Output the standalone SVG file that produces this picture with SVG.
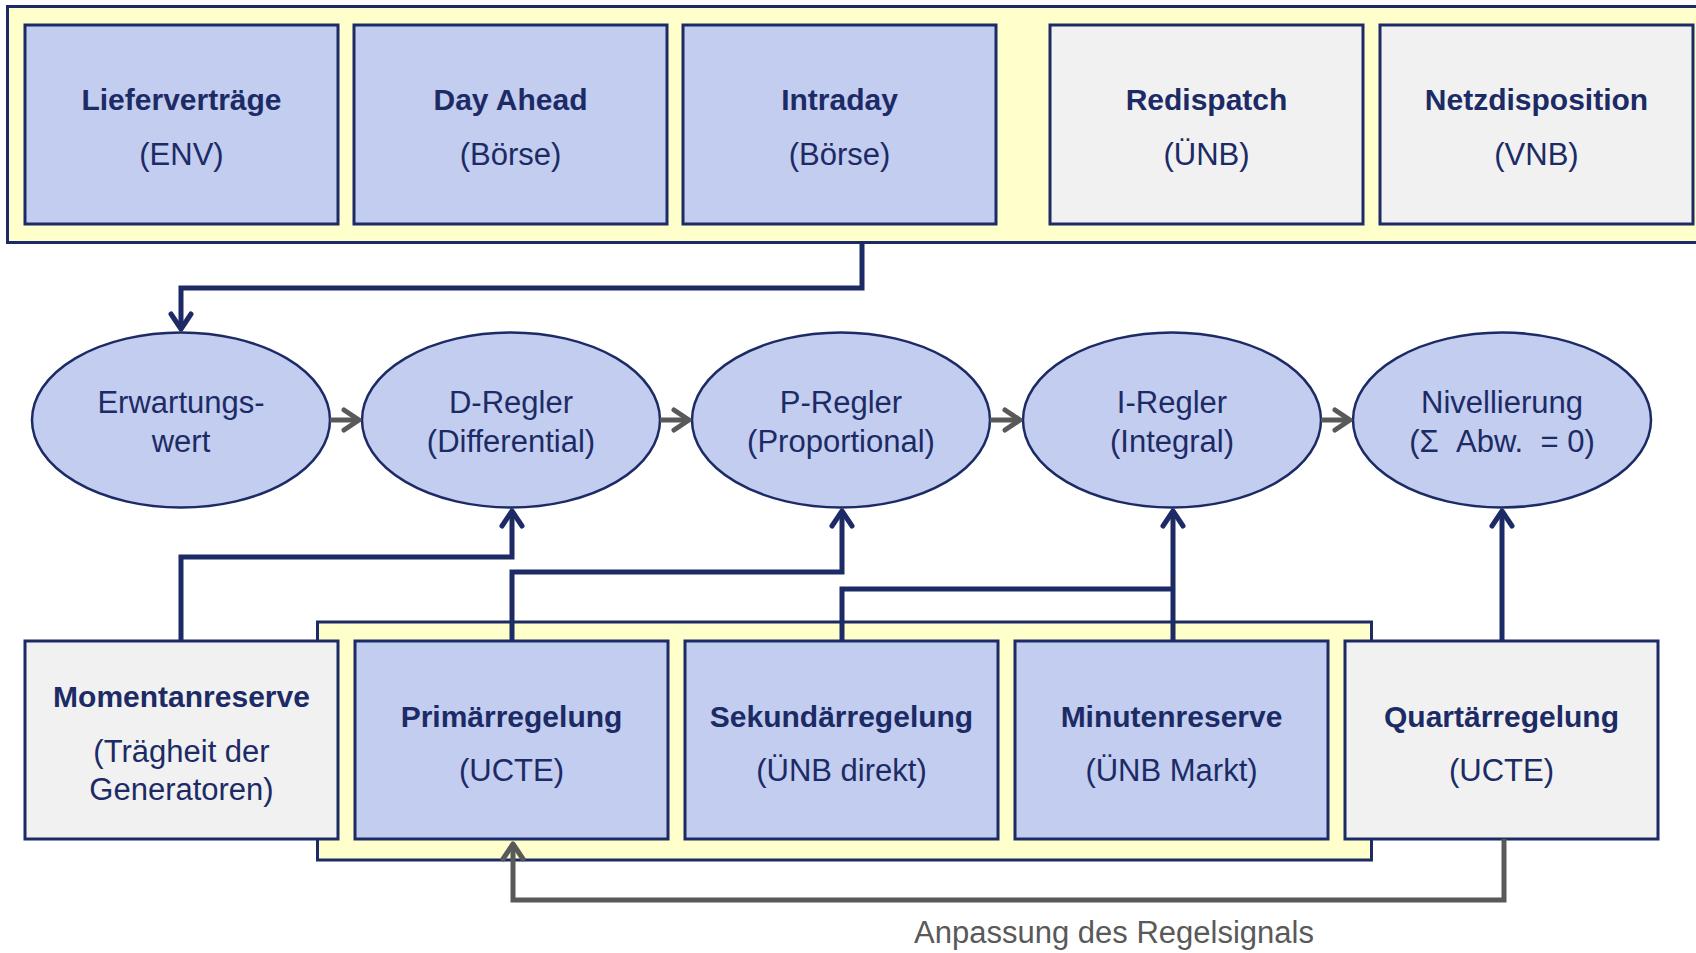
<svg xmlns="http://www.w3.org/2000/svg" width="1696" height="953" viewBox="0 0 1696 953">
  <style>
    .frame { fill: #ffffcc; stroke: #1c2b65; stroke-width: 3; }
    .blue { fill: #c3cdef; stroke: #1c2b65; stroke-width: 3; }
    .grey { fill: #f1f1f1; stroke: #1c2b65; stroke-width: 3; }
    .oval { fill: #c3cdef; stroke: #1c2b65; stroke-width: 2.5; }
    text { font-family: "Liberation Sans", Arial, sans-serif; fill: #1c2b65; text-anchor: middle; }
    .b { font-size: 30px; font-weight: bold; }
    .r { font-size: 31px; }
    .note { font-size: 31px; fill: #595959; }
    .link { fill: none; stroke: #1c2b65; stroke-width: 5; }
    .flow { fill: none; stroke: #595959; stroke-width: 5; }
  </style>
  <defs>
    <marker id="headNavy" markerUnits="userSpaceOnUse" orient="auto" overflow="visible" markerWidth="30" markerHeight="30" refX="0" refY="0">
      <path d="M-15,-10 L0,0 L-15,10" fill="none" stroke="#1c2b65" stroke-width="5" stroke-linecap="round" stroke-linejoin="round"/>
    </marker>
    <marker id="headGrey" markerUnits="userSpaceOnUse" orient="auto" overflow="visible" markerWidth="30" markerHeight="30" refX="0" refY="0">
      <path d="M-15,-10 L0,0 L-15,10" fill="none" stroke="#595959" stroke-width="5" stroke-linecap="round" stroke-linejoin="round"/>
    </marker>
  </defs>

  <!-- market / grid frame (top) -->
  <g id="market-frame">
    <rect class="frame" x="7.5" y="6.5" width="1700" height="236"/>
  </g>
  <!-- balancing frame (bottom) -->
  <g id="balancing-frame">
    <rect class="frame" x="317.5" y="622" width="1054" height="238"/>
  </g>

  <!-- top row -->
  <g id="liefervertraege">
    <rect class="blue" x="25" y="25" width="313" height="199"/>
    <text class="b" x="181.5" y="110">Lieferverträge</text>
    <text class="r" x="181.5" y="165">(ENV)</text>
  </g>
  <g id="day-ahead">
    <rect class="blue" x="354" y="25" width="313" height="199"/>
    <text class="b" x="510.5" y="110">Day Ahead</text>
    <text class="r" x="510.5" y="165">(Börse)</text>
  </g>
  <g id="intraday">
    <rect class="blue" x="683" y="25" width="313" height="199"/>
    <text class="b" x="839.5" y="110">Intraday</text>
    <text class="r" x="839.5" y="165">(Börse)</text>
  </g>
  <g id="redispatch">
    <rect class="grey" x="1050" y="25" width="313" height="199"/>
    <text class="b" x="1206.5" y="110">Redispatch</text>
    <text class="r" x="1206.5" y="165">(ÜNB)</text>
  </g>
  <g id="netzdisposition">
    <rect class="grey" x="1380" y="25" width="313" height="199"/>
    <text class="b" x="1536.5" y="110">Netzdisposition</text>
    <text class="r" x="1536.5" y="165">(VNB)</text>
  </g>

  <!-- controller chain -->
  <g id="erwartungswert">
    <ellipse class="oval" cx="181" cy="420" rx="149" ry="87.5"/>
    <text class="r" x="181" y="413">Erwartungs-</text>
    <text class="r" x="181" y="452">wert</text>
  </g>
  <g id="d-regler">
    <ellipse class="oval" cx="511" cy="420" rx="149" ry="87.5"/>
    <text class="r" x="511" y="413">D-Regler</text>
    <text class="r" x="511" y="452">(Differential)</text>
  </g>
  <g id="p-regler">
    <ellipse class="oval" cx="841" cy="420" rx="149" ry="87.5"/>
    <text class="r" x="841" y="413">P-Regler</text>
    <text class="r" x="841" y="452">(Proportional)</text>
  </g>
  <g id="i-regler">
    <ellipse class="oval" cx="1172" cy="420" rx="149" ry="87.5"/>
    <text class="r" x="1172" y="413">I-Regler</text>
    <text class="r" x="1172" y="452">(Integral)</text>
  </g>
  <g id="nivellierung">
    <ellipse class="oval" cx="1502" cy="420" rx="149" ry="87.5"/>
    <text class="r" x="1502" y="413">Nivellierung</text>
    <text class="r" x="1502" y="452">(Σ&#160; Abw.&#160; = 0)</text>
  </g>

  <!-- bottom row -->
  <g id="momentanreserve">
    <rect class="grey" x="25" y="641" width="313" height="198"/>
    <text class="b" x="181.5" y="707">Momentanreserve</text>
    <text class="r" x="181.5" y="762">(Trägheit der</text>
    <text class="r" x="181.5" y="800">Generatoren)</text>
  </g>
  <g id="primaerregelung">
    <rect class="blue" x="355" y="641" width="313" height="198"/>
    <text class="b" x="511.5" y="727">Primärregelung</text>
    <text class="r" x="511.5" y="781">(UCTE)</text>
  </g>
  <g id="sekundaerregelung">
    <rect class="blue" x="685" y="641" width="313" height="198"/>
    <text class="b" x="841.5" y="727">Sekundärregelung</text>
    <text class="r" x="841.5" y="781">(ÜNB direkt)</text>
  </g>
  <g id="minutenreserve">
    <rect class="blue" x="1015" y="641" width="313" height="198"/>
    <text class="b" x="1171.5" y="727">Minutenreserve</text>
    <text class="r" x="1171.5" y="781">(ÜNB Markt)</text>
  </g>
  <g id="quartaerregelung">
    <rect class="grey" x="1345" y="641" width="313" height="198"/>
    <text class="b" x="1501.5" y="727">Quartärregelung</text>
    <text class="r" x="1501.5" y="781">(UCTE)</text>
  </g>

  <!-- connectors -->
  <g id="connectors">
    <path class="link" d="M862,243 V288 H181 V329" marker-end="url(#headNavy)"/>
    <path class="flow" d="M330,420 H359" marker-end="url(#headGrey)"/>
    <path class="flow" d="M660,420 H689" marker-end="url(#headGrey)"/>
    <path class="flow" d="M990,420 H1020" marker-end="url(#headGrey)"/>
    <path class="flow" d="M1321,420 H1350" marker-end="url(#headGrey)"/>
    <path class="link" d="M181,641 V557 H512 V511" marker-end="url(#headNavy)"/>
    <path class="link" d="M512,641 V572 H842 V511" marker-end="url(#headNavy)"/>
    <path class="link" d="M842,641 V589 H1173"/>
    <path class="link" d="M1173,641 V511" marker-end="url(#headNavy)"/>
    <path class="link" d="M1502,641 V511" marker-end="url(#headNavy)"/>
    <path class="flow" d="M1504,839 V900 H513 V844" marker-end="url(#headGrey)"/>
  </g>

  <g id="feedback-label">
    <text class="note" x="1114" y="943">Anpassung des Regelsignals</text>
  </g>
</svg>
